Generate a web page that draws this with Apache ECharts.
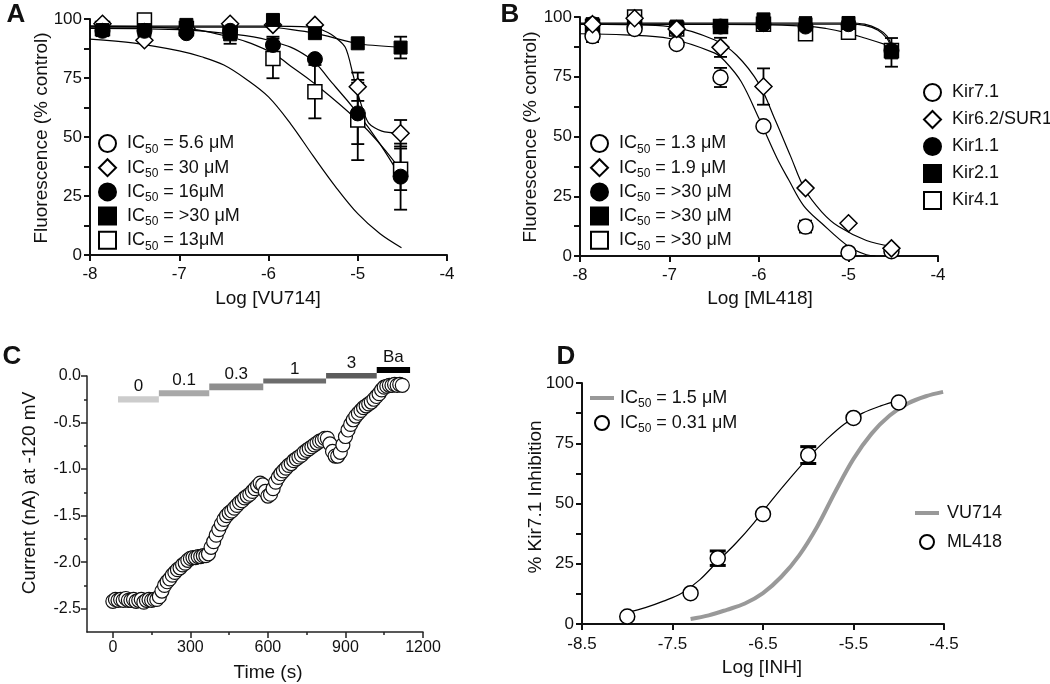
<!DOCTYPE html>
<html><head><meta charset="utf-8">
<script src="https://cdn.jsdelivr.net/npm/echarts@6/dist/echarts.min.js"></script>
<style>html,body{margin:0;padding:0;background:#fff}#c{width:1050px;height:684px}</style>
</head><body><div id="c"></div>
<script>
// ---------- DATA ----------
const xConc = [-7.86, -7.39, -6.92, -6.43, -5.95, -5.48, -5.0, -4.52];
// Panel A (VU714)
const aKir71 = [];
const aKir62 = [98, 91, 96, 98, 97.5, 97.5, 71.3, 51.6];
const aKir62Err = [0, 0, 0, 0, 0, 0, 6, 5.6];
const aKir11 = [95, 95, 94, 95, 89, 83, 60, 33.2];
const aKir11Err = [0, 0, 0, 0, 3.5, 0, 13, 14];
const aKir21 = [95.3, 95.3, 97.5, 93.5, 99.6, 94, 89.7, 87.9];
const aKir21Err = [0, 0, 0, 4, 0, 0, 0, 4.6];
const aKir41 = [96, 99.6, 96, 95, 83.3, 69.2, 57.2, 36.3];
const aKir41Err = [0, 0, 0, 0, 8.4, 11.3, 17, 8.8];
const aFit71 = [[-8, 91.5], [-7.5, 89.8], [-7, 86.5], [-6.75, 84], [-6.5, 80.5], [-6.25, 74.5], [-6, 67], [-5.75, 55.5], [-5.5, 42], [-5.25, 29], [-5, 17.5], [-4.75, 9], [-4.51, 3.1]];
const aFit62 = [[-8, 97], [-7, 97], [-6, 97], [-5.5, 96.5], [-5.3, 93.5], [-5.14, 88], [-5.05, 76], [-4.98, 66], [-4.88, 56], [-4.73, 52.5], [-4.52, 51.5]];
const aFit11 = [[-8, 96], [-7, 95.5], [-6.5, 94], [-6, 91], [-5.56, 84], [-5.29, 73], [-5, 60], [-4.75, 47], [-4.52, 33]];
const aFit21 = [[-8, 96.5], [-6, 96.5], [-5.48, 94], [-5, 89.5], [-4.52, 88]];
const aFit41 = [[-8, 97], [-7, 96], [-6.5, 93], [-6, 86.5], [-5.75, 80], [-5.48, 72.5], [-5, 57], [-4.75, 47], [-4.52, 36]];
const aIC50 = ['5.6 μM', '30 μM', '16μM', '>30 μM', '13μM'];
// Panel B (ML418)
const bKir71 = [92, 95, 88.7, 74.7, 54.3, 12.3, 1.4, 2];
const bKir71Err = [2.5, 0, 0, 4, 0, 2.5, 0, 0];
const bKir62 = [97, 99.5, 95, 87.3, 70.9, 28.4, 13.7, 3.2];
const bKir62Err = [0, 0, 0, 4, 7.6, 0, 0, 0];
const bKir11 = [97, 96, 95, 96, 97, 96, 97, 86];
const bKir21 = [97, 97, 96, 96, 99, 97, 97.5, 85.2];
const bKir21Err = [0, 0, 0, 0, 0, 3, 0, 6];
const bKir41 = [96, 100, 95, 96, 97, 93, 93.6, 86];
const bKir41Err = [0, 0, 0, 0, 2, 0, 0, 0];
const bFit71 = [[-8, 93], [-7.5, 92.5], [-7, 91], [-6.5, 85], [-6.38, 81.5], [-6.2, 73], [-6, 57.5], [-5.8, 41], [-5.67, 32], [-5.5, 21], [-5.3, 13.7], [-5, 4], [-4.8, 0.5], [-4.7, 0]];
const bFit62 = [[-8, 97], [-7.5, 96.8], [-7, 96], [-6.5, 90.5], [-6.25, 84], [-6, 72], [-5.82, 57], [-5.65, 42], [-5.49, 28], [-5.3, 18.5], [-5.11, 12.3], [-4.8, 6.5], [-4.52, 4]];
const bFit11 = [[-8, 97], [-5, 97], [-4.82, 96.5], [-4.67, 94.5], [-4.57, 91], [-4.52, 87]];
const bFit21 = [[-8, 97.5], [-5, 97.5], [-4.82, 97], [-4.67, 95], [-4.57, 92], [-4.52, 88]];
const bFit41 = [[-8, 97], [-6, 96.8], [-5.49, 96.2], [-5.25, 95.2], [-5.04, 93.6], [-4.8, 91], [-4.55, 88]];
const bIC50 = ['1.3 μM', '1.9 μM', '>30 μM', '>30 μM', '>30 μM'];
const channelNames = ['Kir7.1', 'Kir6.2/SUR1', 'Kir1.1', 'Kir2.1', 'Kir4.1'];
// Panel C (time course)
const cTime = [0,10,20,30,40,50,60,70,80,90,
  100,110,120,130,140,150,160,170,180,190,
  200,210,220,230,240,250,260,270,280,290,
  300,310,320,330,340,350,360,370,380,390,
  400,410,420,430,440,450,460,470,480,490,
  500,510,520,530,540,550,560,570,580,590,
  600,610,620,630,640,650,660,670,680,690,
  700,710,720,730,740,750,760,770,780,790,
  800,810,820,830,840,850,860,870,880,890,
  900,910,920,930,940,950,960,970,980,990,
  1000,1010,1020,1030,1040,1050,1060,1070,1080,1090,
  1100,1110,1120];
const cCurrent = [-2.42,-2.40,-2.41,-2.40,-2.41,-2.39,-2.41,-2.41,-2.40,-2.42,
  -2.41,-2.40,-2.43,-2.41,-2.40,-2.41,-2.40,-2.40,-2.37,-2.31,
  -2.25,-2.21,-2.18,-2.14,-2.11,-2.08,-2.06,-2.03,-2.01,-1.98,
  -1.96,-1.95,-1.95,-1.94,-1.94,-1.93,-1.93,-1.91,-1.84,-1.78,
  -1.71,-1.65,-1.59,-1.54,-1.50,-1.47,-1.45,-1.42,-1.39,-1.36,
  -1.34,-1.31,-1.29,-1.27,-1.24,-1.21,-1.18,-1.15,-1.17,-1.24,
  -1.29,-1.27,-1.21,-1.14,-1.09,-1.05,-1.02,-0.99,-0.96,-0.94,
  -0.91,-0.89,-0.87,-0.85,-0.82,-0.80,-0.78,-0.76,-0.74,-0.72,
  -0.70,-0.69,-0.67,-0.67,-0.73,-0.81,-0.86,-0.86,-0.82,-0.74,
  -0.65,-0.58,-0.52,-0.47,-0.43,-0.40,-0.37,-0.34,-0.32,-0.30,
  -0.28,-0.25,-0.22,-0.19,-0.15,-0.12,-0.11,-0.10,-0.10,-0.09,
  -0.10,-0.09,-0.10];
const concLabels = ['0', '0.1', '0.3', '1', '3', 'Ba'];
const concStart = [20, 178, 373, 582, 825, 1021];
const concEnd = [178, 373, 582, 825, 1021, 1150];
const concTop = [-0.218, -0.153, -0.081, -0.028, 0.032, 0.096];
const concBottom = [-0.285, -0.218, -0.153, -0.081, -0.028, 0.032];
const cXLabels = [0, 300, 600, 900, 1200];
const cXMinor = [150, 450, 750, 1050];
const cYLabels = [0, -0.5, -1, -1.5, -2, -2.5];
const cYMinor = [-0.25, -0.75, -1.25, -1.75, -2.25];
// Panel D
const dX = [-8, -7.3, -7, -6.5, -6, -5.5, -5];
const dML418 = [3.1, 12.8, 27.3, 45.6, 70.1, 85.5, 91.9];
const dML418Err = [0, 0, 3, 0, 3.5, 0, 0];
const dFitML418 = [[-8, 4.8], [-7.8, 6.8], [-7.6, 9.5], [-7.4, 12.8], [-7.2, 18.3], [-7, 26], [-6.8, 33.5], [-6.6, 42], [-6.4, 51.5], [-6.2, 60.5], [-6, 69], [-5.8, 76.5], [-5.6, 83], [-5.4, 87.5], [-5.2, 90.5], [-5, 92.8]];
const dFitVU714 = [[-7.3, 2.1], [-7.1, 3.6], [-6.9, 5.9], [-6.7, 8.5], [-6.5, 12.8], [-6.3, 19.5], [-6.1, 28.5], [-5.9, 40.5], [-5.7, 55], [-5.5, 68.5], [-5.3, 79], [-5.1, 86.5], [-4.9, 91.5], [-4.7, 94.5], [-4.51, 96.3]];
const dIC50 = ['1.5 μM', '0.31 μM'];

// ---------- STYLE / BUILD ----------
const FF = "'Liberation Sans', Arial, Helvetica, sans-serif";
const INK = '#111';
const barColors = ['#cccccc', '#a8a8a8', '#8e8e8e', '#6c6c6c', '#5c5c5c', '#000000'];
const pairs = (xs, ys) => ys.map((y, i) => [xs[i], y]);
const errRows = (xs, ys, es) => ys.map((y, i) => [xs[i], y, es[i]]).filter(r => r[2] > 0);

function axisCommon(o) {
  return Object.assign({
    type: 'value', splitLine: { show: false },
    axisLine: { show: true, onZero: false, lineStyle: { color: INK, width: 2 } },
    axisTick: { show: true, inside: false, length: 6, lineStyle: { color: INK, width: 2 } },
    axisLabel: { color: INK, fontSize: 17, fontFamily: FF }
  }, o);
}
const pctFmt = v => (v % 25 === 0 ? String(v) : '');
const lab = (o) => Object.assign({ color: INK, fontSize: 17, fontFamily: FF }, o);

const xAxis = [
  axisCommon({ gridIndex: 0, min: -8, max: -4, interval: 1, axisLabel: lab({ margin: 11 }) }),
  axisCommon({ gridIndex: 1, min: -8, max: -4, interval: 1, axisLabel: lab({ margin: 11 }) }),
  axisCommon({ gridIndex: 2, min: -100, max: 1200, position: 'bottom',
    axisLine: { show: true, onZero: false, lineStyle: { color: '#222', width: 1.5 } },
    axisTick: { show: true, length: 6, customValues: cXLabels, lineStyle: { color: '#222', width: 1.5 } },
    axisLabel: lab({ fontSize: 16, margin: 8, customValues: cXLabels, formatter: v => String(v) }) }),
  axisCommon({ gridIndex: 2, min: -100, max: 1200, position: 'bottom',
    axisLine: { show: false, onZero: false }, axisLabel: { show: false },
    axisTick: { show: true, length: 3, customValues: cXMinor, lineStyle: { color: '#222', width: 1.5 } } }),
  axisCommon({ gridIndex: 3, min: -8.5, max: -4.5, interval: 1, axisLabel: lab({ margin: 12 }) })
];
const yAxis = [
  axisCommon({ gridIndex: 0, min: 0, max: 100, interval: 12.5, axisLabel: lab({ margin: 8, formatter: pctFmt }) }),
  axisCommon({ gridIndex: 1, min: 0, max: 100, interval: 12.5, axisLabel: lab({ margin: 8, formatter: pctFmt }) }),
  axisCommon({ gridIndex: 2, min: -2.75, max: 0, position: 'left',
    axisLine: { show: true, onZero: false, lineStyle: { color: '#222', width: 1.5 } },
    axisTick: { show: true, length: 6, customValues: cYLabels, lineStyle: { color: '#222', width: 1.5 } },
    axisLabel: lab({ fontSize: 16, margin: 6, customValues: cYLabels, formatter: v => Number(v).toFixed(1) }) }),
  axisCommon({ gridIndex: 2, min: -2.75, max: 0, position: 'left',
    axisLine: { show: false, onZero: false }, axisLabel: { show: false },
    axisTick: { show: true, length: 3, customValues: cYMinor, lineStyle: { color: '#222', width: 1.5 } } }),
  axisCommon({ gridIndex: 3, min: 0, max: 100, interval: 12.5, axisLabel: lab({ margin: 8, formatter: pctFmt }) })
];

function errRender(capW, lw) {
  return function (params, api) {
    const x = api.value(0), y = api.value(1), e = api.value(2);
    const t = api.coord([x, y + e]), b = api.coord([x, y - e]);
    const st = { stroke: '#000', lineWidth: lw };
    return { type: 'group', children: [
      { type: 'line', shape: { x1: t[0], y1: t[1], x2: b[0], y2: b[1] }, style: st },
      { type: 'line', shape: { x1: t[0] - capW / 2, y1: t[1], x2: t[0] + capW / 2, y2: t[1] }, style: st },
      { type: 'line', shape: { x1: b[0] - capW / 2, y1: b[1], x2: b[0] + capW / 2, y2: b[1] }, style: st }
    ] };
  };
}
function fit(name, data, ai, extra) {
  return Object.assign({ name, type: 'line', xAxisIndex: ai, yAxisIndex: ai, data,
    symbol: 'none', showSymbol: false, smooth: 0.35, silent: true, z: 1,
    itemStyle: { color: '#000' }, lineStyle: { color: '#000', width: 1.2 } }, extra || {});
}
const MK = {
  openCircle: { symbol: 'circle', symbolSize: 15, itemStyle: { color: '#fff', borderColor: '#000', borderWidth: 1.5, opacity: 1 } },
  openDiamond: { symbol: 'diamond', symbolSize: 17, itemStyle: { color: '#fff', borderColor: '#000', borderWidth: 1.5, opacity: 1 } },
  fillCircle: { symbol: 'circle', symbolSize: 15, itemStyle: { color: '#000', borderColor: '#000', borderWidth: 1, opacity: 1 } },
  fillSquare: { symbol: 'rect', symbolSize: 13, itemStyle: { color: '#000', borderColor: '#000', borderWidth: 1, opacity: 1 } },
  openSquare: { symbol: 'rect', symbolSize: 14, itemStyle: { color: '#fff', borderColor: '#000', borderWidth: 1.5, opacity: 1 } }
};
function pts(name, data, ai, mk) {
  return Object.assign({ name, type: 'scatter', xAxisIndex: ai, yAxisIndex: ai, data, z: 3, silent: true }, JSON.parse(JSON.stringify(mk)));
}

const aNames = ['A Kir7.1', 'A Kir6.2', 'A Kir1.1', 'A Kir2.1', 'A Kir4.1'];
const series = [
  // Panel A
  fit('a71', aFit71, 0), fit('a62', aFit62, 0, { smooth: 0.25 }), fit('a11', aFit11, 0, { smooth: 0.45 }), fit('a21', aFit21, 0, { smooth: 0.2 }), fit('a41', aFit41, 0, { smooth: 0.45 }),
  { name: 'aErr', type: 'custom', xAxisIndex: 0, yAxisIndex: 0, z: 2, silent: true, encode: { x: 0, y: 1 },
    renderItem: errRender(13, 1.8),
    data: [].concat(errRows(xConc, aKir62, aKir62Err), errRows(xConc, aKir11, aKir11Err), errRows(xConc, aKir21, aKir21Err), errRows(xConc, aKir41, aKir41Err)) },
  pts(aNames[0], pairs(xConc, aKir71), 0, MK.openCircle),
  pts(aNames[4], pairs(xConc, aKir41), 0, MK.openSquare),
  pts(aNames[1], pairs(xConc, aKir62), 0, MK.openDiamond),
  pts(aNames[2], pairs(xConc, aKir11), 0, MK.fillCircle),
  pts(aNames[3], pairs(xConc, aKir21), 0, MK.fillSquare),
  // Panel B
  fit('b71', bFit71, 1), fit('b62', bFit62, 1), fit('b11', bFit11, 1, { smooth: 0.3 }), fit('b21', bFit21, 1, { smooth: 0.3 }), fit('b41', bFit41, 1, { smooth: 0.45 }),
  { name: 'bErr', type: 'custom', xAxisIndex: 1, yAxisIndex: 1, z: 2, silent: true, encode: { x: 0, y: 1 },
    renderItem: errRender(13, 1.8),
    data: [].concat(errRows(xConc, bKir71, bKir71Err), errRows(xConc, bKir62, bKir62Err), errRows(xConc, bKir21, bKir21Err), errRows(xConc, bKir41, bKir41Err)) },
  pts(channelNames[4], pairs(xConc, bKir41), 1, MK.openSquare),
  pts(channelNames[2], pairs(xConc, bKir11), 1, MK.fillCircle),
  pts(channelNames[3], pairs(xConc, bKir21), 1, MK.fillSquare),
  pts(channelNames[0], pairs(xConc, bKir71), 1, MK.openCircle),
  pts(channelNames[1], pairs(xConc, bKir62), 1, MK.openDiamond),
  // Panel C
  { name: 'trace', type: 'scatter', xAxisIndex: 2, yAxisIndex: 2, silent: true, z: 3,
    symbol: 'circle', symbolSize: 14, itemStyle: { color: '#fff', borderColor: '#111', borderWidth: 1.2, opacity: 1 },
    data: pairs(cTime, cCurrent) },
  { name: 'conc', type: 'custom', xAxisIndex: 2, yAxisIndex: 2, silent: true, clip: false, z: 4,
    encode: { x: [0, 1], y: [2, 3] },
    data: concLabels.map((l, i) => [concStart[i], concEnd[i], concTop[i], concBottom[i], i]),
    renderItem: function (params, api) {
      const i = api.value(4);
      const p1 = api.coord([api.value(0), api.value(2)]);
      const p2 = api.coord([api.value(1), api.value(3)]);
      return { type: 'group', children: [
        { type: 'rect', shape: { x: p1[0], y: p1[1], width: p2[0] - p1[0], height: p2[1] - p1[1] }, style: { fill: barColors[i] } },
        { type: 'text', style: { text: concLabels[i], x: (p1[0] + p2[0]) / 2, y: p1[1] - 1, textAlign: 'center', textVerticalAlign: 'bottom', font: '17px ' + FF, fill: INK } }
      ] };
    } },
  // Panel D
  fit('VU714', dFitVU714, 4, { lineStyle: { color: '#999', width: 4 }, itemStyle: { color: '#999' } }),
  fit('mlfit', dFitML418, 4),
  { name: 'dErr', type: 'custom', xAxisIndex: 4, yAxisIndex: 4, z: 2, silent: true, encode: { x: 0, y: 1 },
    renderItem: errRender(16, 3), data: errRows(dX, dML418, dML418Err) },
  pts('ML418', pairs(dX, dML418), 4, MK.openCircle)
];

const richIC = {
  m: { fontSize: 18, lineHeight: 24, verticalAlign: 'middle', color: INK, fontFamily: FF },
  s: { fontSize: 12, lineHeight: 12, verticalAlign: 'bottom', color: INK, fontFamily: FF }
};
const icText = val => '{m|IC}{s|50}{m| = ' + val + '}';
const legendBase = { orient: 'vertical', selectedMode: false, padding: 0, itemWidth: 17, itemHeight: 17,
  textStyle: { color: INK, fontSize: 18, fontFamily: FF, padding: [0, 0, 0, 6], rich: richIC } };
const plainText = pad => ({ color: INK, fontSize: 18, lineHeight: 18, fontFamily: FF, padding: [0, 0, 0, pad] });
const vuIcon = 'path://M0,0L24,0L24,4L0,4Z';
const legend = [
  Object.assign({}, legendBase, { data: aNames, left: 98, top: 134, itemGap: 2.7, formatter: n => icText(aIC50[aNames.indexOf(n)]) }),
  Object.assign({}, legendBase, { data: channelNames, left: 590, top: 134, itemGap: 2.7, formatter: n => icText(bIC50[channelNames.indexOf(n)]) }),
  Object.assign({}, legendBase, { data: channelNames, left: 923, top: 83, itemGap: 8, formatter: n => n, textStyle: plainText(6) }),
  Object.assign({}, legendBase, { data: [{ name: 'VU714', icon: vuIcon }, 'ML418'], left: 590, top: 389, itemWidth: 24, itemHeight: 14, itemGap: 4,
    formatter: n => icText(dIC50[n === 'VU714' ? 0 : 1]), textStyle: Object.assign({}, legendBase.textStyle, { padding: [0, 0, 0, 1] }) }),
  Object.assign({}, legendBase, { data: [{ name: 'VU714', icon: vuIcon }, 'ML418'], left: 915, top: 504, itemWidth: 24, itemHeight: 14, itemGap: 11,
    formatter: n => n, textStyle: plainText(3) })
];

function txt(text, x, y, size, opts) {
  return Object.assign({ type: 'text', x, y, silent: true,
    style: { text, font: (opts && opts.bold ? 'bold ' : '') + size + 'px ' + FF, fill: INK, textAlign: 'center', textVerticalAlign: 'middle' } },
    opts && opts.rot ? { rotation: Math.PI / 2 } : {});
}
const graphic = [
  txt('A', 16, 15, 26, { bold: true }), txt('B', 510, 15, 26, { bold: true }),
  txt('C', 12, 357, 26, { bold: true }), txt('D', 566, 357, 26, { bold: true }),
  txt('Fluorescence (% control)', 42, 138, 19, { rot: true }),
  txt('Fluorescence (% control)', 531, 137, 19, { rot: true }),
  txt('Log [VU714]', 268, 299, 19), txt('Log [ML418]', 760, 299, 19),
  txt('Current (nA) at -120 mV', 30, 493, 19, { rot: true }),
  txt('Time (s)', 268, 673, 19),
  txt('% Kir7.1 Inhibition', 536, 497, 19, { rot: true }),
  txt('Log [INH]', 762, 668, 19)
];

const chart = echarts.init(document.getElementById('c'), null, { renderer: 'canvas' });
chart.setOption({
  animation: false,
  backgroundColor: '#fff',
  textStyle: { fontFamily: FF },
  grid: [
    { left: 90, top: 19, width: 357, height: 236, outerBoundsMode: 'none', containLabel: false },
    { left: 580, top: 17, width: 358, height: 239, outerBoundsMode: 'none', containLabel: false },
    { left: 87, top: 376, width: 336, height: 256, outerBoundsMode: 'none', containLabel: false },
    { left: 582, top: 383, width: 362, height: 241, outerBoundsMode: 'none', containLabel: false }
  ],
  xAxis, yAxis, legend, series, graphic
});
</script></body></html>
